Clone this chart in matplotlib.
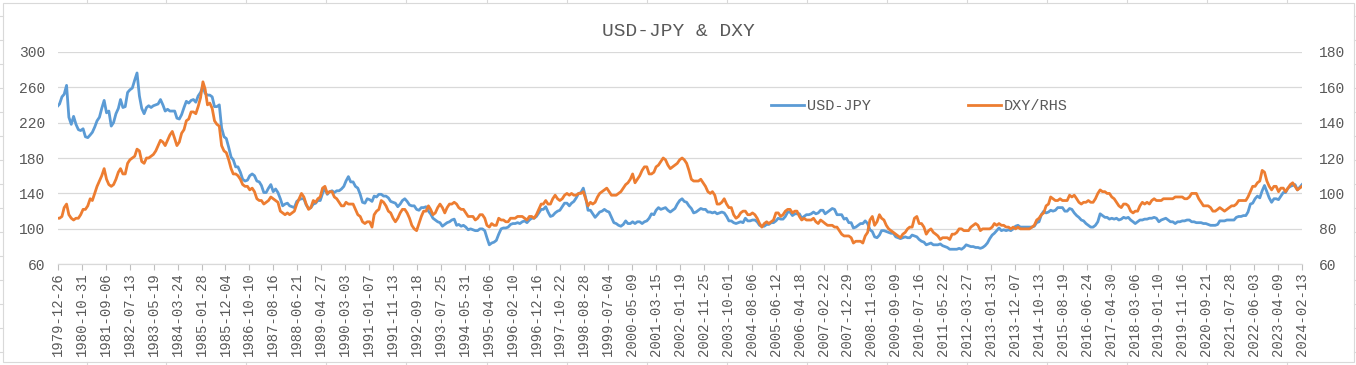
import numpy as np
import pandas as pd
import matplotlib
matplotlib.use("Agg")
import matplotlib.pyplot as plt
from matplotlib.patches import Rectangle
from matplotlib.lines import Line2D

# %% Data (monthly readings, Dec-1979 .. Feb-2024)
start_date = "1979-12-26"
end_date = "2024-02-13"

usdjpy = [
    239,                                                        # 1979
    241, 249, 252, 262, 226, 218, 227, 218, 212, 211, 213, 204,  # 1980
    203, 206, 209, 215, 222, 226, 236, 245, 231, 233, 216, 220,  # 1981
    230, 236, 246, 237, 238, 254, 257, 259, 268, 276, 250, 236,  # 1982
    230, 237, 239, 237, 239, 240, 241, 246, 240, 233, 235, 233,  # 1983
    233, 233, 225, 224, 229, 237, 244, 242, 245, 246, 243, 250,  # 1984
    254, 261, 253, 251, 251, 249, 238, 238, 240, 214, 204, 202,  # 1985
    192, 181, 178, 170, 170, 164, 156, 154, 155, 160, 162, 160,  # 1986
    154, 153, 149, 141, 141, 146, 150, 142, 145, 141, 134, 126,  # 1987
    128, 129, 126, 125, 124, 131, 133, 134, 134, 127, 123, 124,  # 1988
    128, 129, 132, 132, 140, 146, 139, 142, 143, 141, 143, 143,  # 1989
    145, 148, 154, 159, 153, 153, 148, 146, 139, 130, 129, 134,  # 1990
    133, 131, 137, 136, 139, 139, 137, 137, 135, 131, 130, 129,  # 1991
    125, 128, 132, 134, 131, 127, 126, 126, 122, 121, 124, 124,  # 1992
    125, 120, 117, 112, 110, 108, 107, 103, 105, 107, 108, 110,  # 1993
    111, 104, 105, 103, 104, 102, 99, 100, 99, 98, 98, 100,      # 1994
    100, 98, 90, 82, 84, 85, 87, 94, 100, 101, 101, 102,         # 1995
    105, 106, 106, 107, 106, 108, 109, 107, 110, 112, 112, 114,  # 1996
    118, 122, 122, 125, 119, 114, 115, 118, 120, 121, 125, 129,  # 1997
    129, 126, 129, 131, 135, 140, 141, 146, 135, 121, 121, 117,  # 1998
    113, 116, 119, 120, 122, 120, 119, 113, 107, 106, 104, 103,  # 1999
    105, 109, 106, 106, 108, 106, 108, 108, 106, 108, 109, 112,  # 2000
    117, 116, 121, 124, 122, 123, 124, 121, 119, 121, 123, 128,  # 2001
    132, 134, 131, 130, 126, 123, 118, 119, 121, 123, 122, 122,  # 2002
    119, 119, 118, 119, 117, 118, 119, 118, 114, 109, 109, 107,  # 2003
    106, 107, 108, 107, 112, 109, 109, 110, 110, 108, 104, 103,  # 2004
    103, 105, 105, 107, 107, 109, 112, 111, 111, 114, 119, 119,  # 2005
    115, 117, 117, 117, 112, 114, 116, 116, 117, 119, 117, 118,  # 2006
    121, 121, 117, 119, 121, 123, 122, 116, 116, 116, 111, 112,  # 2007
    107, 107, 101, 102, 104, 106, 106, 109, 106, 99, 97, 91,     # 2008
    90, 93, 98, 98, 97, 96, 95, 95, 91, 90, 89, 90,              # 2009
    91, 90, 90, 93, 92, 91, 88, 86, 85, 82, 83, 84,              # 2010
    82, 82, 82, 83, 81, 80, 79, 77, 77, 77, 77, 78,              # 2011
    77, 79, 82, 81, 80, 80, 79, 79, 78, 79, 81, 84,              # 2012
    89, 93, 95, 98, 101, 98, 99, 98, 99, 98, 100, 103,           # 2013
    104, 102, 102, 102, 102, 102, 102, 103, 107, 108, 116, 120,  # 2014
    118, 119, 121, 120, 121, 124, 124, 124, 120, 120, 123, 122,  # 2015
    118, 115, 113, 110, 109, 106, 104, 102, 102, 104, 108, 117,  # 2016
    115, 113, 113, 111, 112, 111, 112, 110, 111, 113, 112, 113,  # 2017
    110, 108, 106, 108, 110, 110, 111, 111, 112, 112, 113, 112,  # 2018
    108, 110, 111, 112, 110, 108, 108, 106, 108, 108, 109, 109,  # 2019
    110, 110, 108, 108, 107, 107, 107, 106, 106, 105, 104, 104,  # 2020
    104, 105, 109, 109, 109, 110, 110, 110, 110, 113, 114, 114,  # 2021
    115, 115, 119, 128, 129, 134, 137, 135, 143, 149, 142, 135,  # 2022
    130, 134, 134, 133, 137, 141, 141, 146, 148, 149, 150, 144,  # 2023
    147, 150,                                                    # 2024
]

dxy = [
    86,                                                          # 1979
    86, 87, 92, 94, 88, 86, 85, 86, 86, 88, 91, 91,              # 1980
    93, 97, 96, 100, 104, 107, 110, 114, 108, 105, 104, 105,     # 1981
    108, 112, 114, 111, 111, 117, 119, 120, 121, 125, 124, 118,  # 1982
    117, 120, 120, 121, 122, 124, 127, 130, 129, 127, 130, 133,  # 1983
    135, 131, 127, 129, 134, 136, 141, 142, 146, 146, 145, 149,  # 1984
    154, 163, 159, 150, 151, 148, 141, 139, 138, 127, 124, 123,  # 1985
    119, 114, 111, 111, 110, 108, 105, 104, 104, 102, 103, 101,  # 1986
    97, 96, 96, 94, 95, 96, 98, 97, 96, 95, 90, 89,              # 1987
    88, 89, 88, 89, 90, 94, 97, 100, 98, 94, 91, 92,             # 1988
    96, 95, 97, 98, 103, 104, 100, 101, 101, 98, 97, 95,         # 1989
    93, 93, 95, 94, 94, 94, 91, 88, 87, 84, 83, 84,              # 1990
    84, 81, 88, 90, 91, 96, 95, 93, 90, 89, 86, 84,              # 1991
    86, 89, 91, 91, 89, 86, 82, 80, 79, 83, 87, 90,              # 1992
    90, 93, 91, 88, 89, 92, 94, 92, 89, 92, 94, 94,              # 1993
    95, 94, 92, 91, 91, 89, 87, 87, 87, 85, 86, 88,              # 1994
    88, 86, 82, 81, 83, 82, 82, 86, 85, 85, 84, 84,              # 1995
    86, 86, 86, 87, 87, 87, 86, 85, 87, 87, 86, 88,              # 1996
    91, 94, 94, 96, 94, 94, 97, 99, 97, 96, 97, 99,              # 1997
    100, 99, 100, 99, 99, 100, 100, 101, 97, 93, 95, 94,         # 1998
    95, 98, 100, 101, 102, 103, 101, 99, 99, 99, 100, 101,       # 1999
    103, 105, 106, 108, 111, 106, 108, 110, 113, 115, 115, 111,  # 2000
    111, 112, 115, 116, 118, 120, 119, 116, 114, 115, 116, 117,  # 2001
    119, 120, 119, 117, 113, 108, 107, 107, 107, 108, 106, 104,  # 2002
    101, 100, 101, 99, 94, 94, 95, 97, 94, 92, 92, 88,           # 2003
    86, 87, 89, 90, 90, 88, 88, 89, 88, 86, 83, 81,              # 2004
    83, 84, 83, 84, 85, 89, 89, 87, 88, 90, 91, 91,              # 2005
    89, 90, 90, 87, 85, 86, 85, 85, 85, 86, 84, 83,              # 2006
    85, 84, 83, 82, 82, 82, 81, 81, 79, 77, 76, 76,              # 2007
    76, 75, 72, 73, 73, 73, 72, 76, 78, 85, 87, 82,              # 2008
    84, 88, 86, 85, 82, 80, 79, 78, 77, 76, 75, 77,              # 2009
    78, 80, 81, 81, 86, 87, 83, 83, 81, 77, 79, 80,              # 2010
    78, 77, 76, 74, 75, 75, 75, 74, 77, 77, 78, 80,              # 2011
    80, 79, 79, 79, 81, 82, 83, 82, 79, 80, 80, 80,              # 2012
    80, 81, 83, 82, 83, 82, 82, 81, 81, 80, 81, 80,              # 2013
    81, 80, 80, 80, 80, 80, 81, 82, 85, 86, 88, 89,              # 2014
    93, 94, 98, 97, 96, 96, 97, 96, 96, 96, 99, 98,              # 2015
    99, 97, 95, 94, 95, 95, 96, 95, 95, 97, 100, 102,            # 2016
    101, 101, 100, 100, 98, 97, 95, 93, 92, 94, 94, 93,          # 2017
    90, 89, 90, 90, 93, 95, 94, 95, 94, 96, 97, 96,              # 2018
    96, 96, 97, 97, 97, 97, 97, 98, 98, 98, 98, 97,              # 2019
    97, 98, 100, 100, 100, 97, 95, 93, 93, 93, 92, 90,           # 2020
    90, 91, 92, 91, 90, 91, 92, 93, 93, 94, 96, 96,              # 2021
    96, 96, 98, 101, 104, 104, 106, 107, 113, 112, 107, 104,     # 2022
    102, 104, 104, 101, 103, 103, 101, 103, 105, 106, 104, 102,  # 2023
    103, 104,                                                    # 2024
]

tick_labels = [
    "1979-12-26", "1980-10-31", "1981-09-06", "1982-07-13", "1983-05-19",
    "1984-03-24", "1985-01-28", "1985-12-04", "1986-10-10", "1987-08-16",
    "1988-06-21", "1989-04-27", "1990-03-03", "1991-01-07", "1991-11-13",
    "1992-09-18", "1993-07-25", "1994-05-31", "1995-04-06", "1996-02-10",
    "1996-12-16", "1997-10-22", "1998-08-28", "1999-07-04", "2000-05-09",
    "2001-03-15", "2002-01-19", "2002-11-25", "2003-10-01", "2004-08-06",
    "2005-06-12", "2006-04-18", "2007-02-22", "2007-12-29", "2008-11-03",
    "2009-09-09", "2010-07-16", "2011-05-22", "2012-03-27", "2013-01-31",
    "2013-12-07", "2014-10-13", "2015-08-19", "2016-06-24", "2017-04-30",
    "2018-03-06", "2019-01-10", "2019-11-16", "2020-09-21", "2021-07-28",
    "2022-06-03", "2023-04-09", "2024-02-13",
]

# first reading on start date, mid-month readings after, last on end date
mids = pd.date_range("1980-01-15", "2024-01-15", freq=pd.DateOffset(months=1))
dates = pd.DatetimeIndex([pd.Timestamp(start_date)] + list(mids) + [pd.Timestamp(end_date)])
assert len(dates) == len(usdjpy) == len(dxy)

# %% Plot
W, H = 1356, 365
fig = plt.figure(figsize=(W / 100, H / 100), dpi=100)
fig.patch.set_facecolor("white")

font = "Liberation Mono"
txt_col = "#595959"
grid_col = "#d9d9d9"

# spreadsheet cell lines around the chart
for xc in [87, 166, 246, 326, 406, 487, 567, 647, 727, 807, 887, 967, 1047, 1127, 1207, 1287]:
    fig.add_artist(Line2D([xc / W, xc / W], [1 - 3 / H, 1], color=grid_col, lw=0.8))
    fig.add_artist(Line2D([xc / W, xc / W], [0, 1 - 362 / H], color=grid_col, lw=0.8))
for yc in range(16, 365, 24):
    fig.add_artist(Line2D([0, 3 / W], [1 - yc / H, 1 - yc / H], color=grid_col, lw=0.8))
    fig.add_artist(Line2D([1354 / W, 1], [1 - yc / H, 1 - yc / H], color=grid_col, lw=0.8))
fig.add_artist(Rectangle((3 / W, 1 - 362 / H), 1351 / W, 359 / H, transform=fig.transFigure,
                         fill=False, edgecolor=grid_col, lw=0.8))

ax1 = fig.add_axes([58 / W, 1 - 264.3 / H, 1244 / W, 212.6 / H])
ax2 = ax1.twinx()

ax1.plot(dates, usdjpy, color="#5B9BD5", lw=2.0, label="USD-JPY")
ax2.plot(dates, dxy, color="#ED7D31", lw=2.0, label="DXY/RHS")

ax1.set_xlim(pd.Timestamp(start_date), pd.Timestamp(end_date))
ax1.set_ylim(60, 300)
ax1.set_yticks(np.arange(60, 301, 40))
ax2.set_ylim(60, 180)
ax2.set_yticks(np.arange(60, 181, 20))

ax1.set_xticks(pd.to_datetime(tick_labels))
ax1.set_xticklabels(tick_labels, rotation=90, fontfamily=font, fontsize=10, color=txt_col)
ax1.tick_params(axis="x", direction="out", length=4, color="#bfbfbf", pad=2)
ax1.tick_params(axis="y", length=0, pad=9)
ax2.tick_params(axis="y", length=0, pad=12)
for lab in ax1.get_yticklabels() + ax2.get_yticklabels():
    lab.set_fontfamily(font)
    lab.set_fontsize(10.5)
    lab.set_color(txt_col)

ax1.grid(True, axis="y", color=grid_col, lw=0.9)
ax1.set_axisbelow(True)
for ax in (ax1, ax2):
    for s in ("left", "right", "top"):
        ax.spines[s].set_visible(False)
    ax.spines["bottom"].set_color(grid_col)

fig.text(678 / W, 1 - 32 / H, "USD-JPY & DXY", ha="center", va="center",
         fontfamily=font, fontsize=14, color=txt_col)

handles = [ax1.get_lines()[0], ax2.get_lines()[0]]
fig.legend(handles, ["USD-JPY", "DXY/RHS"], loc="center left",
           bbox_to_anchor=(757 / W, 1 - 106 / H), ncol=2, frameon=False,
           prop={"family": font, "size": 11}, labelcolor=txt_col,
           handlelength=2.2, handletextpad=0.2, columnspacing=6.3)

fig.savefig("out.png", dpi=100, facecolor="white")
